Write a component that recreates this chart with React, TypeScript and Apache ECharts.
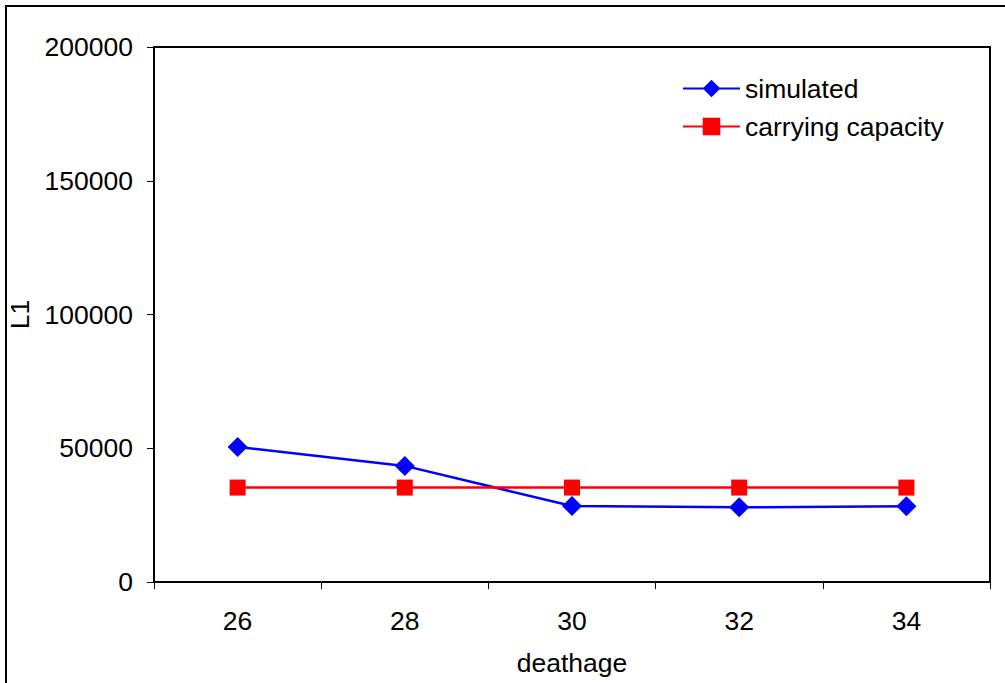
import React, { useEffect, useRef } from "react";
import * as echarts from "echarts";

const categories = ["26", "28", "30", "32", "34"];
const simulated = [50500, 43400, 28400, 27900, 28300];
const carryingCapacity = [35300, 35300, 35300, 35300, 35300];

const FONT = "Liberation Sans, Arial, sans-serif";
const FS = 26.5;

export default function App() {
  const ref = useRef<HTMLDivElement>(null);
  useEffect(() => {
    const chart = echarts.init(ref.current!, null, { renderer: "svg" });
    chart.setOption({
      animation: false,
      backgroundColor: "#ffffff",
      textStyle: { fontFamily: FONT },
      graphic: [
        {
          type: "rect",
          shape: { x: 6, y: 6, width: 1200, height: 900 },
          style: { fill: "none", stroke: "#000", lineWidth: 2 },
          silent: true,
        },
      ],
      grid: {
        left: 154,
        right: 15,
        top: 47,
        bottom: 101,
        outerBoundsMode: "none",
        containLabel: false,
        show: true,
        borderColor: "#000",
        borderWidth: 2,
        backgroundColor: "transparent",
      },
      legend: {
        orient: "vertical",
        left: 682,
        top: 75,
        padding: 0,
        itemWidth: 57,
        itemHeight: 22,
        itemGap: 11,
        textStyle: { fontFamily: FONT, fontSize: FS, color: "#000", padding: [0, 0, 0, 0] },
        data: ["simulated", "carrying capacity"],
      },
      xAxis: {
        type: "category",
        data: categories,
        boundaryGap: true,
        name: "deathage",
        nameLocation: "middle",
        nameGap: 67,
        nameTextStyle: { fontFamily: FONT, fontSize: FS, color: "#000" },
        axisLine: { lineStyle: { color: "#000", width: 2 } },
        axisTick: { show: true, length: 7, alignWithLabel: false, lineStyle: { color: "#000", width: 1 } },
        axisLabel: { fontFamily: FONT, fontSize: FS, color: "#000", margin: 25 },
        splitLine: { show: false },
      },
      yAxis: {
        type: "value",
        min: 0,
        max: 200000,
        interval: 50000,
        name: "L1",
        nameLocation: "middle",
        nameRotate: 90,
        nameGap: 121,
        nameTextStyle: { fontFamily: FONT, fontSize: FS, color: "#000" },
        axisLine: { show: true, lineStyle: { color: "#000", width: 2 } },
        axisTick: { show: true, length: 7, lineStyle: { color: "#000", width: 1 } },
        axisLabel: {
          fontFamily: FONT,
          fontSize: FS,
          color: "#000",
          margin: 21,
          formatter: (v: number) => String(v),
        },
        splitLine: { show: false },
      },
      series: [
        {
          name: "simulated",
          type: "line",
          data: simulated,
          symbol: "diamond",
          symbolSize: 20,
          itemStyle: { color: "#0000ff" },
          lineStyle: { color: "#0000ff", width: 2.5 },
        },
        {
          name: "carrying capacity",
          type: "line",
          data: carryingCapacity,
          symbol: "rect",
          symbolSize: 16,
          itemStyle: { color: "#ff0000" },
          lineStyle: { color: "#ff0000", width: 2.5 },
        },
      ],
    });
    return () => chart.dispose();
  }, []);
  return (
    <div
      ref={ref}
      style={{ position: "fixed", left: 0, top: 0, width: 1005, height: 683 }}
    />
  );
}
